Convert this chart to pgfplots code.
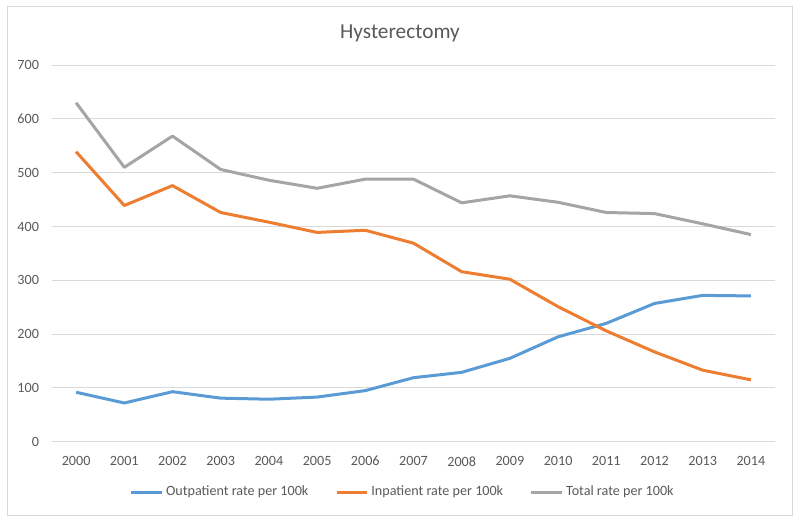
\documentclass[border=0pt]{standalone}
\usepackage{fontspec}
\setmainfont{Carlito}
\usepackage{pgfplots}
\pgfplotsset{compat=1.18}
\definecolor{outp}{RGB}{91,155,213}
\definecolor{inp}{RGB}{237,125,49}
\definecolor{tot}{RGB}{165,165,165}
\definecolor{gridc}{RGB}{217,217,217}
\definecolor{txt}{RGB}{89,89,89}

\begin{document}
\begin{tikzpicture}[x=0.75pt,y=0.75pt]
\path (0,0) rectangle (800,522);
\draw[gridc, line width=0.75pt] (7,7) rectangle (792,515);
\node[text=txt, font=\fontsize{16}{19}\selectfont] at (400,489) {Hysterectomy};
\begin{axis}[
    at={(39pt,60.2pt)}, anchor=south west,
    scale only axis,
    width=542.25pt, height=282.5pt,
    xmin=1999.5, xmax=2014.5,
    ymin=0, ymax=700,
    xtick={2000,2001,...,2014},
    ytick={0,100,...,700},
    ymajorgrids,
    major grid style={gridc, line width=0.75pt},
    axis line style={draw=none},
    tick style={draw=none},
    /pgf/number format/assume math mode=true,
    xticklabel style={/pgf/number format/1000 sep={}, yshift=-7.5pt},
    yticklabel style={xshift=-6.25pt},
    ticklabel style={text=txt, font=\fontsize{10.6}{12}\selectfont},
    legend columns=3,
    legend style={at={(0.4855,-0.1335)}, anchor=center, draw=none, fill=none,
        font=\fontsize{10.6}{12}\selectfont, text=txt,
        /tikz/every even column/.append style={column sep=18pt}},
    legend image code/.code={\draw[#1] (0pt,0pt) -- (23pt,0pt);},
    every axis plot/.append style={line width=2.25pt, line join=round},
]
\addplot[outp, mark=none] coordinates {
(2000,92) (2001,72) (2002,93) (2003,81) (2004,79) (2005,83) (2006,95) (2007,119)
(2008,129) (2009,155) (2010,195) (2011,220) (2012,257) (2013,272) (2014,271)};
\addplot[inp, mark=none] coordinates {
(2000,539) (2001,439) (2002,476) (2003,426) (2004,408) (2005,389) (2006,393) (2007,369)
(2008,316) (2009,302) (2010,251) (2011,206) (2012,167) (2013,133) (2014,115)};
\addplot[tot, mark=none] coordinates {
(2000,630) (2001,510) (2002,568) (2003,506) (2004,486) (2005,471) (2006,488) (2007,488)
(2008,444) (2009,457) (2010,445) (2011,426) (2012,424) (2013,405) (2014,385)};
\legend{Outpatient rate per 100k, Inpatient rate per 100k, Total rate per 100k}
\end{axis}
\end{tikzpicture}
\end{document}
